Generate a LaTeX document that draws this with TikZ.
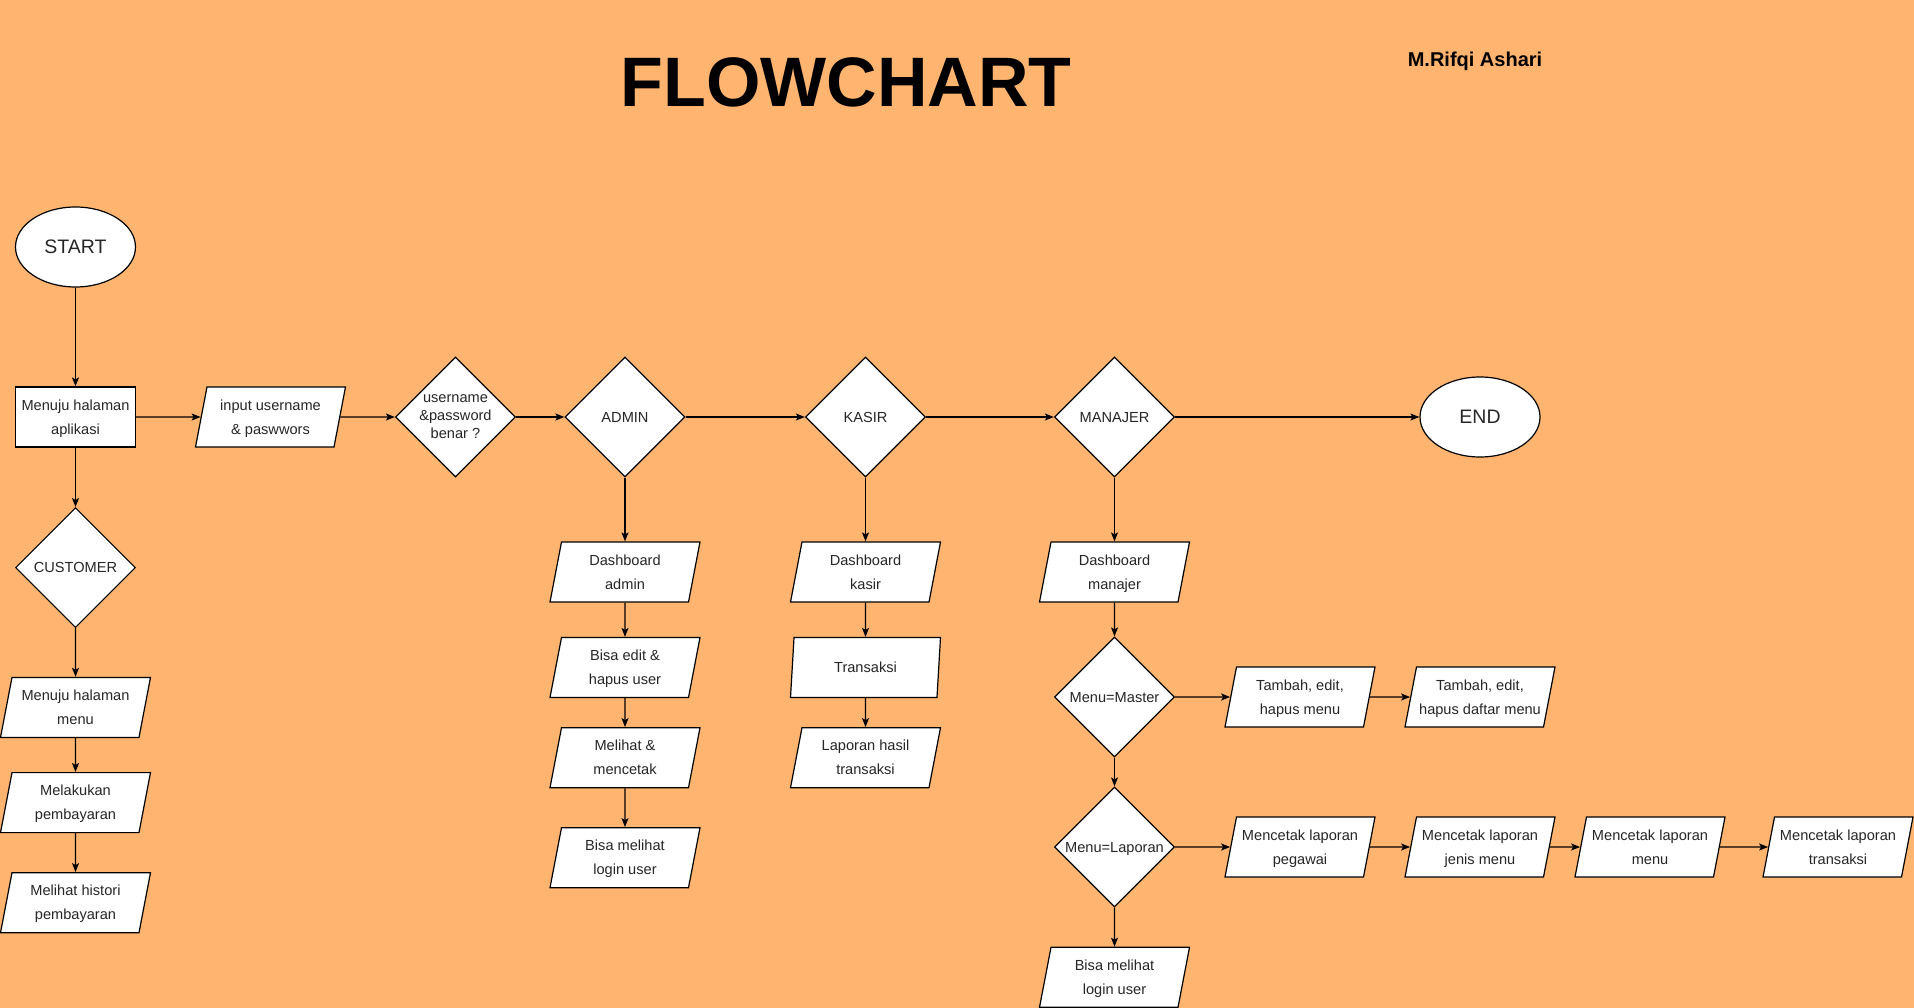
\documentclass[tikz,border=0pt]{standalone}
\usepackage{fontspec}
\setmainfont{Liberation Sans}
\usetikzlibrary{positioning, shapes.geometric, arrows.meta}

\definecolor{bgorange}{HTML}{FFB570}

\begin{document}
\begin{tikzpicture}[x=1pt, y=-1pt, line width=1.2pt,
    >={Stealth[length=9pt, width=7pt, inset=2pt]},
    every node/.style={font=\fontsize{14.6}{24}\selectfont, text=black!85},
    term/.style={draw, ellipse, fill=white, minimum width=120pt, minimum height=80pt, font=\fontsize{19.5}{24}\selectfont},
    box/.style={draw, rectangle, fill=white, minimum width=120pt, minimum height=60pt, align=center, inner sep=0pt, text depth=-5pt},
    io/.style={draw, trapezium, trapezium left angle=71.6, trapezium right angle=108.4, trapezium stretches body=true, fill=white, minimum width=150pt, minimum height=60pt, align=center, inner sep=0pt, text depth=-5pt},
    dec/.style={draw, diamond, fill=white, minimum width=120pt, minimum height=120pt, align=center, inner sep=0pt, text depth=-1pt}]

    % Background and page size
    \useasboundingbox (0,0) rectangle (1914,1008);
    \fill[bgorange] (0,0) rectangle (1914,1008);

    % Title and author
    \node (title) [anchor=base, font=\fontsize{70}{80}\bfseries\selectfont, text=black] at (846,107) {FLOWCHART};
    \node (author) [anchor=base, font=\fontsize{20}{24}\bfseries\selectfont, text=black] at (1475,67) {M.Rifqi Ashari};

    % Main row
    \node (start) [term] at (75.5,247) {START};
    \node (app) [box] at (75.5,417) {Menuju halaman\\aplikasi};
    \node (login) [io] at (270.5,417) {input username\\\& paswwors};
    \node (cek) [dec, text depth=0pt, font=\fontsize{14.6}{18}\selectfont] at (455.5,417) {username\\\&password\\benar ?};
    \node (admin) [dec] at (625,417) {ADMIN};
    \node (kasir) [dec] at (865.5,417) {KASIR};
    \node (manajer) [dec] at (1114.5,417) {MANAJER};
    \node (finish) [term] at (1480,417) {END};

    % Customer column
    \node (customer) [dec] at (75.5,567.6) {CUSTOMER};
    \node (menu) [io] at (75.5,707.4) {Menuju halaman\\menu};
    \node (bayar) [io] at (75.5,802.6) {Melakukan\\pembayaran};
    \node (histori) [io] at (75.5,902.7) {Melihat histori\\pembayaran};

    % Admin column
    \node (dadmin) [io] at (625,572) {Dashboard\\admin};
    \node (edituser) [io] at (625,667.5) {Bisa edit \&\\hapus user};
    \node (cetak) [io] at (625,757.7) {Melihat \&\\mencetak};
    \node (loginadmin) [io] at (625,857.7) {Bisa melihat\\login user};

    % Kasir column
    \node (dkasir) [io] at (865.5,572) {Dashboard\\kasir};
    \node (transaksi) [io] at (865.5,667.5) {Transaksi};
    \node (laporan) [io] at (865.5,757.7) {Laporan hasil\\transaksi};

    % Manajer column
    \node (dmanajer) [io] at (1114.5,572) {Dashboard\\manajer};
    \node (master) [dec] at (1114.5,697) {Menu=Master};
    \node (lapmenu) [dec] at (1114.5,847) {Menu=Laporan};
    \node (loginmanajer) [io] at (1114.5,977.3) {Bisa melihat\\login user};
    \node (tambah) [io] at (1300,697) {Tambah, edit,\\hapus menu};
    \node (tambahdaftar) [io] at (1480,697) {Tambah, edit,\\\makebox[0pt]{hapus daftar menu}};
    \node (lpegawai) [io] at (1300,847) {\makebox[0pt]{Mencetak laporan}\\pegawai};
    \node (ljenis) [io] at (1480,847) {\makebox[0pt]{Mencetak laporan}\\jenis menu};
    \node (lmenu) [io] at (1650,847) {\makebox[0pt]{Mencetak laporan}\\menu};
    \node (ltransaksi) [io] at (1838,847) {\makebox[0pt]{Mencetak laporan}\\transaksi};

    % Arrows of the main row
    \draw[->] (start) -- (app);
    \draw[->] (app) -- (login);
    \draw[->] (login) -- (cek);
    \draw[->] (cek) -- (admin);
    \draw[->] (admin) -- (kasir);
    \draw[->] (kasir) -- (manajer);
    \draw[->] (manajer) -- (finish);

    % Arrows of the customer column
    \draw[->] (app) -- (customer);
    \draw[->] (customer) -- (menu);
    \draw[->] (menu) -- (bayar);
    \draw[->] (bayar) -- (histori);

    % Arrows of the admin and kasir columns
    \draw[->] (admin) -- (dadmin);
    \draw[->] (dadmin) -- (edituser);
    \draw[->] (edituser) -- (cetak);
    \draw[->] (cetak) -- (loginadmin);
    \draw[->] (kasir) -- (dkasir);
    \draw[->] (dkasir) -- (transaksi);
    \draw[->] (transaksi) -- (laporan);

    % Arrows of the manajer column
    \draw[->] (manajer) -- (dmanajer);
    \draw[->] (dmanajer) -- (master);
    \draw[->] (master) -- (lapmenu);
    \draw[->] (lapmenu) -- (loginmanajer);
    \draw[->] (master) -- (tambah);
    \draw[->] (tambah) -- (tambahdaftar);
    \draw[->] (lapmenu) -- (lpegawai);
    \draw[->] (lpegawai) -- (ljenis);
    \draw[->] (ljenis) -- (lmenu);
    \draw[->] (lmenu) -- (ltransaksi);

\end{tikzpicture}
\end{document}
